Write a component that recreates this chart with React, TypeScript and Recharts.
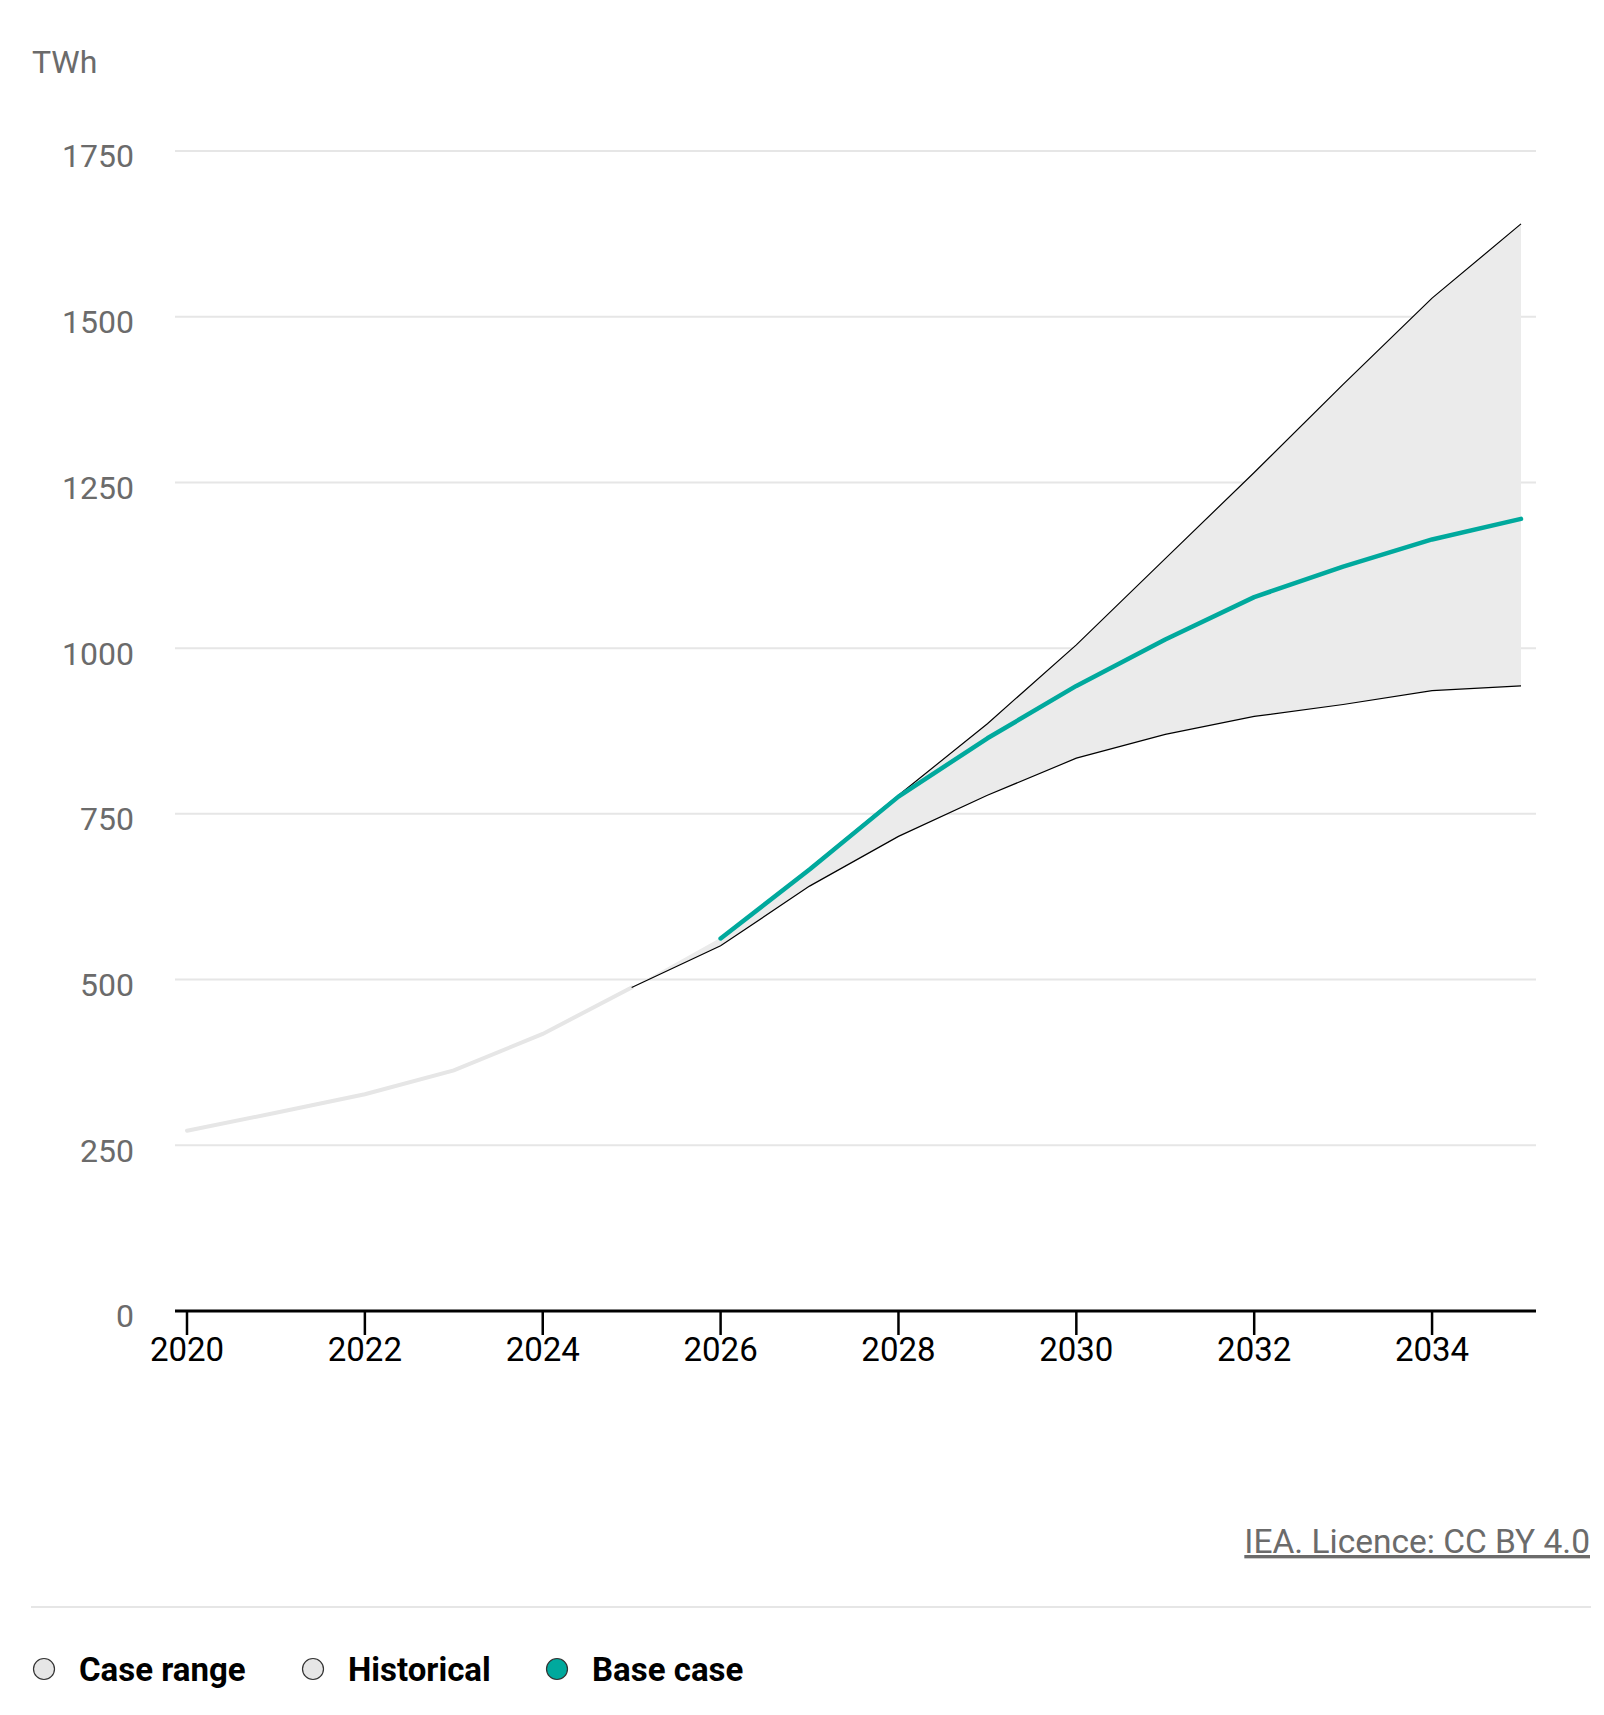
import React from 'react';
import { ComposedChart, Line, Area, XAxis, YAxis, CartesianGrid } from 'recharts';

// Years on the x axis
const years = [2020, 2021, 2022, 2023, 2024, 2025, 2026, 2027, 2028, 2029, 2030, 2031, 2032, 2033, 2034, 2035];

// TWh
const historical = [272, 299, 327, 363, 418, 488, null, null, null, null, null, null, null, null, null, null];
const baseCase = [null, null, null, null, null, null, 562, 666, 776, 864, 943, 1013, 1077, 1123, 1164, 1195];
const upperCase = [null, null, null, null, null, null, 563, 668, 778, 886, 1005, 1135, 1265, 1398, 1528, 1640];
const lowerCase = [null, null, null, null, null, 488, 551, 641, 716, 778, 834, 870, 897, 915, 936, 943];

const xTicks = [2020, 2022, 2024, 2026, 2028, 2030, 2032, 2034];
const yTicks = [0, 250, 500, 750, 1000, 1250, 1500, 1750];

const legendItems = [
  { label: 'Case range', color: '#e6e6e6', circleX: 44, textX: 79 },
  { label: 'Historical', color: '#e6e6e6', circleX: 313, textX: 348 },
  { label: 'Base case', color: '#00a99d', circleX: 557, textX: 592 },
];

const FONT = 'Roboto, "Noto Sans", sans-serif';

const chartData = years.map((year, i) => {
  const lo = i === 5 ? historical[5] : lowerCase[i];
  const hi = i === 5 ? historical[5] : upperCase[i];
  return {
    year,
    historical: historical[i],
    base: baseCase[i],
    upper: upperCase[i],
    lower: lowerCase[i],
    range: lo != null && hi != null ? [lo, hi] : null,
  };
});

const App: React.FC = () => {
  return (
    <div style={{ position: 'absolute', left: 0, top: 0, width: 1604, height: 1715, background: '#fff', fontFamily: FONT }}>
      <ComposedChart
        width={1604}
        height={1420}
        data={chartData}
        margin={{ top: 151, right: 68, left: 0, bottom: 0 }}
      >
        <CartesianGrid horizontal vertical={false} stroke="#e6e6e6" strokeWidth={2} />
        <XAxis
          dataKey="year"
          type="number"
          domain={[2020, 2035]}
          ticks={xTicks}
          padding={{ left: 12, right: 15 }}
          height={109}
          axisLine={{ stroke: '#000', strokeWidth: 3 }}
          tickLine={{ stroke: '#000', strokeWidth: 2.5 }}
          tickSize={24}
          tickMargin={3}
          tick={{ fill: '#000', fontSize: 33, fontFamily: FONT }}
          interval={0}
        />
        <YAxis
          type="number"
          domain={[0, 1750]}
          ticks={yTicks}
          width={175}
          axisLine={false}
          tickLine={false}
          tickSize={0}
          tickMargin={41}
          tick={{ fill: '#6b6b6b', fontSize: 32, fontFamily: FONT, dy: 5 }}
          interval={0}
        />
        <Area
          dataKey="range"
          type="linear"
          fill="#ebebeb"
          fillOpacity={1}
          stroke="none"
          connectNulls={false}
          isAnimationActive={false}
        />
        <Line
          dataKey="historical"
          type="linear"
          stroke="#e6e6e6"
          strokeWidth={4}
          strokeLinecap="round"
          dot={false}
          isAnimationActive={false}
        />
        <Line
          dataKey="lower"
          type="linear"
          stroke="#000"
          strokeWidth={1.2}
          dot={false}
          isAnimationActive={false}
        />
        <Line
          dataKey="upper"
          type="linear"
          stroke="#000"
          strokeWidth={1.2}
          dot={false}
          isAnimationActive={false}
        />
        <Line
          dataKey="base"
          type="linear"
          stroke="#00a99d"
          strokeWidth={4.5}
          strokeLinecap="round"
          strokeLinejoin="round"
          dot={false}
          isAnimationActive={false}
        />
      </ComposedChart>

      <svg
        width={1604}
        height={1715}
        style={{ position: 'absolute', left: 0, top: 0, pointerEvents: 'none' }}
      >
        <text x={32} y={73} fill="#6b6b6b" fontSize={32} fontFamily={FONT}>
          TWh
        </text>
        <text
          x={1590}
          y={1553}
          textAnchor="end"
          fill="#6b6b6b"
          fontSize={33.5}
          fontFamily={FONT}
          style={{ textDecoration: 'underline' }}
        >
          IEA. Licence: CC BY 4.0
        </text>
        <line x1={31} x2={1591} y1={1607} y2={1607} stroke="#e6e6e6" strokeWidth={2} />
        {legendItems.map((item) => (
          <g key={item.label}>
            <circle cx={item.circleX} cy={1669} r={10.5} fill={item.color} stroke="#333" strokeWidth={1.2} />
            <text
              x={item.textX}
              y={1681}
              fill="#000"
              fontSize={33}
              fontWeight={700}
              fontFamily={FONT}
            >
              {item.label}
            </text>
          </g>
        ))}
      </svg>
    </div>
  );
};

export default App;
